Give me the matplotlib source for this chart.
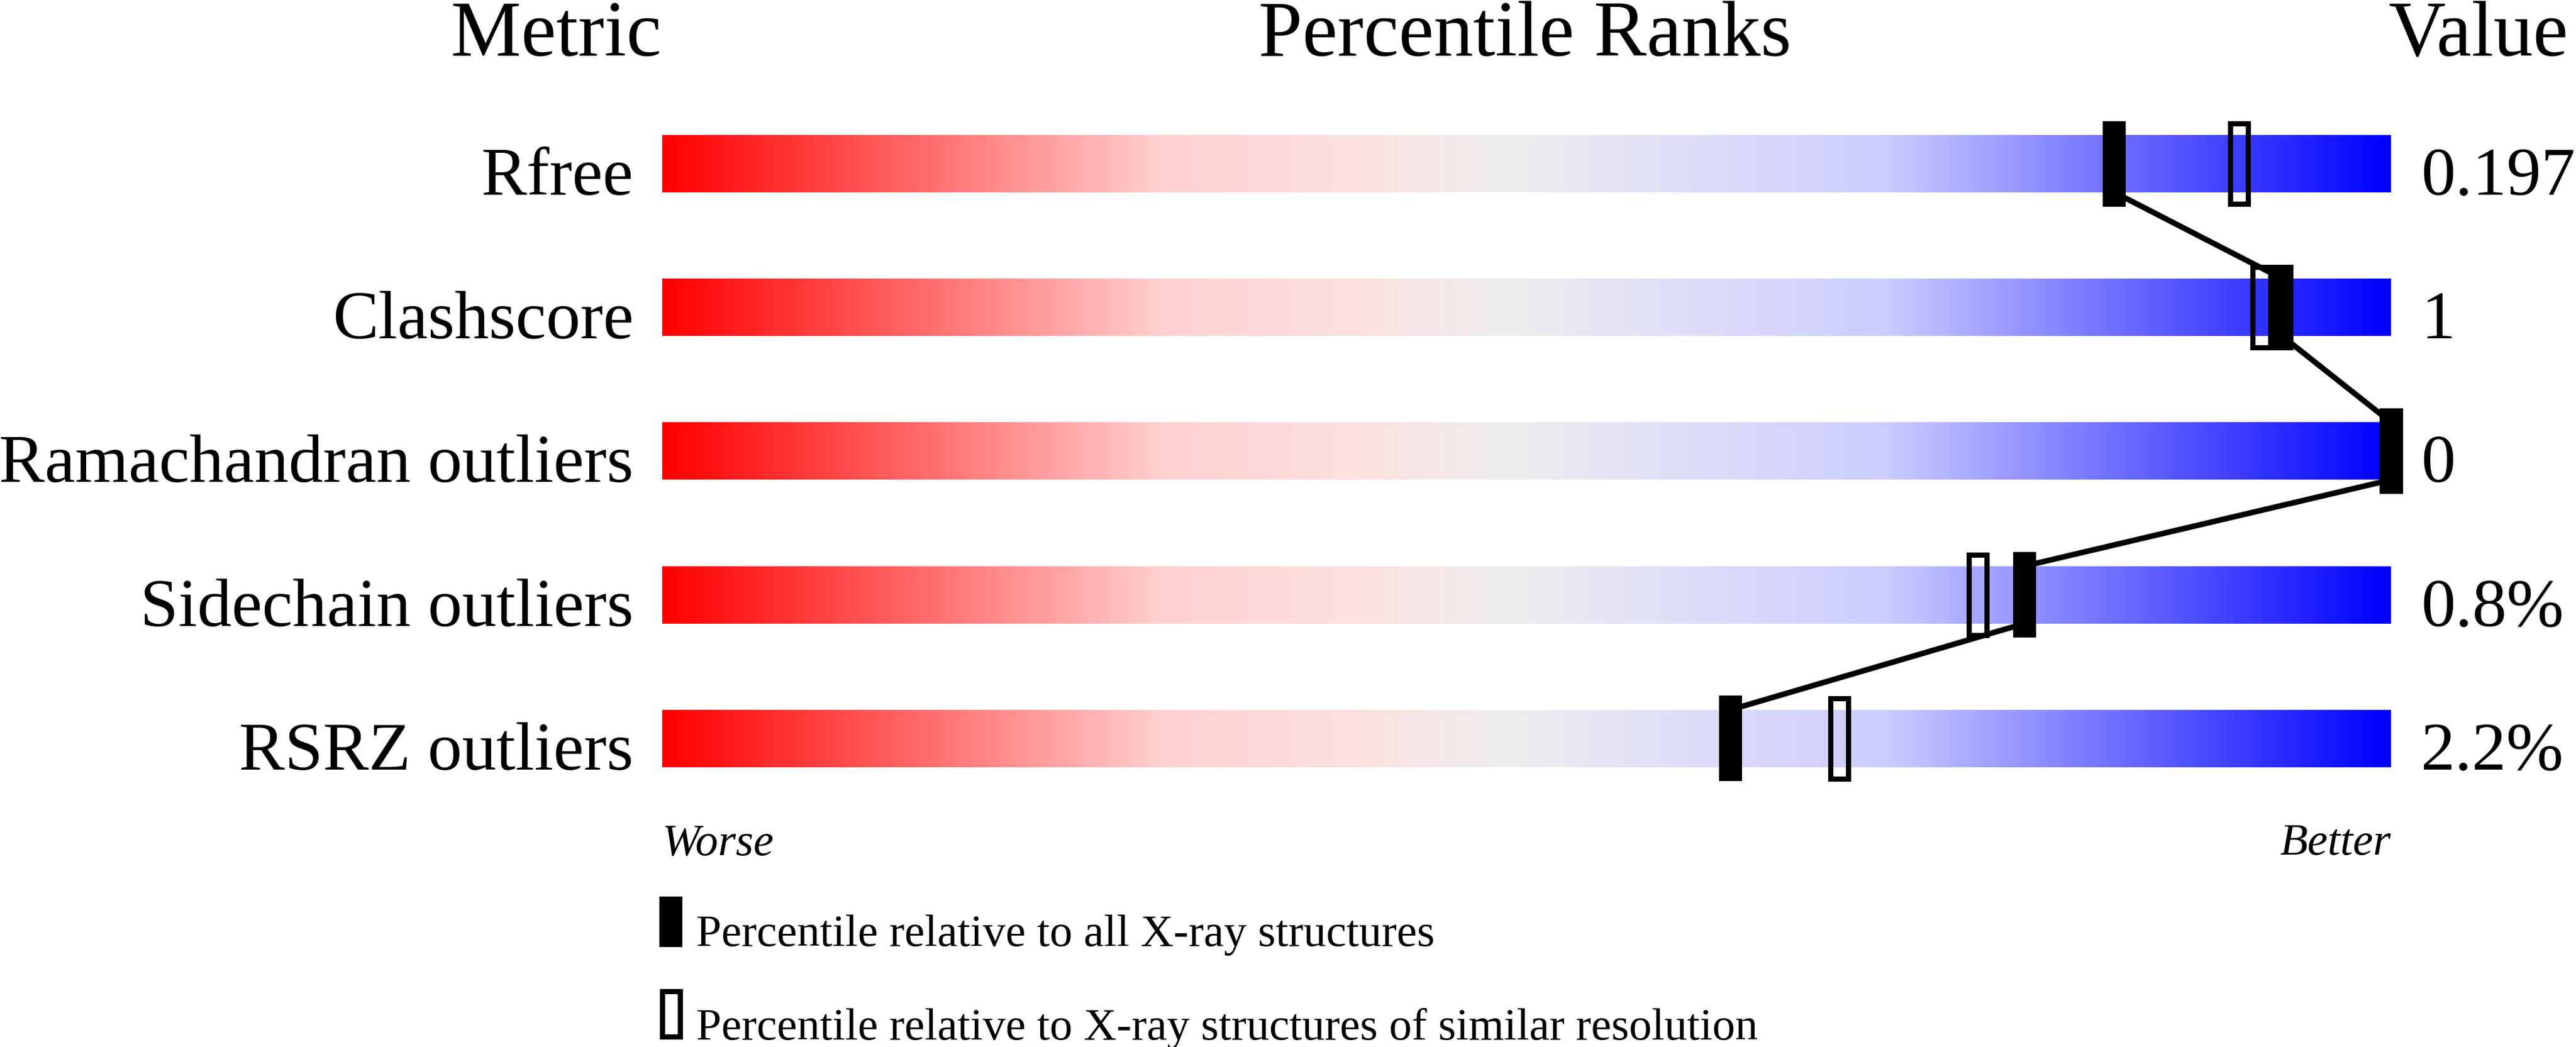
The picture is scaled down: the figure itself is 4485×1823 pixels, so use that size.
import numpy as np
import matplotlib
matplotlib.use("Agg")
import matplotlib.pyplot as plt
from matplotlib.colors import LinearSegmentedColormap
from matplotlib.patches import Rectangle

plt.rcParams['font.family'] = ['Liberation Serif', 'DejaVu Serif']

# data
metrics = ["Rfree", "Clashscore", "Ramachandran outliers", "Sidechain outliers", "RSRZ outliers"]
values = ["0.197", "1", "0", "0.8%", "2.2%"]
pct_all = [84.0, 93.7, 100.0, 78.8, 61.8]       # vs all X-ray structures (filled)
pct_similar = [91.2, 92.5, 100.0, 76.1, 68.1]   # vs similar resolution (open)
legend_labels = ["Percentile relative to all X-ray structures",
                 "Percentile relative to X-ray structures of similar resolution"]

W, H = 4485, 1824
BAR_L, BAR_R = 1153, 4163
ROW0, ROW_STEP = 286, 250.2       # pixel centre of first row, spacing
px_per_pct = (BAR_R - BAR_L) / 100.0

fig = plt.figure(figsize=(W / 100, H / 100), dpi=100)
ax = fig.add_axes([BAR_L / W, 0, (BAR_R - BAR_L) / W, 1])

cmap = LinearSegmentedColormap.from_list("slider", [
    (0.0, (1.0, 0.0, 0.0)),
    (0.29, (1.0, 0.82, 0.82)),
    (0.40, (0.99, 0.88, 0.88)),
    (0.49, (0.933, 0.933, 0.933)),
    (0.61, (0.86, 0.86, 0.98)),
    (0.71, (0.80, 0.80, 1.0)),
    (1.0, (0.0, 0.0, 1.0)),
])
grad = np.linspace(0, 1, 512).reshape(1, -1)

bar_h = 50 / ROW_STEP      # half height of bar in row units
mk_h = 74.5 / ROW_STEP     # half height of marker
mk_w = 40 / px_per_pct     # marker width in percentile units
ow = 9 / px_per_pct        # open marker stroke inset

rows = np.arange(len(metrics))
for r in rows:
    ax.imshow(grad, cmap=cmap, aspect='auto', extent=[0, 100, r + bar_h, r - bar_h],
              interpolation='bilinear', zorder=1)

# open markers
for r, p in zip(rows, pct_similar):
    ax.add_patch(Rectangle((p - mk_w / 2 + ow / 2, r - mk_h + 4.5 / ROW_STEP),
                           mk_w - ow, 2 * mk_h - 9 / ROW_STEP,
                           fill=False, edgecolor='black', lw=6.5, zorder=2, clip_on=False))

# connecting line: bottom of one bar to top of next
lx, ly = [], []
for r, p in zip(rows, pct_all):
    lx += [p, p]
    ly += [r - bar_h, r + bar_h]
ax.plot(lx, ly, color='black', lw=7, zorder=3, clip_on=False)

# filled markers
for r, p in zip(rows, pct_all):
    ax.add_patch(Rectangle((p - mk_w / 2, r - mk_h), mk_w, 2 * mk_h,
                           facecolor='black', edgecolor='none', zorder=4, clip_on=False))

top = -ROW0 / ROW_STEP
bottom = (H - ROW0) / ROW_STEP
ax.set_xlim(0, 100)
ax.set_ylim(bottom, top)
ax.axis('off')

def px2x(px):
    return (px - BAR_L) / px_per_pct

def py2y(py):
    return (py - ROW0) / ROW_STEP

lab_off = 53 / ROW_STEP
for r, m, v in zip(rows, metrics, values):
    ax.text(px2x(1103), r + lab_off, m, ha='right', va='baseline', fontsize=86)
    ax.text(px2x(4215), r + lab_off, v, ha='left', va='baseline', fontsize=86)

# headers
fig.text(1152 / W, 1 - 97 / H, "Metric", ha='right', va='baseline', fontsize=99)
fig.text(2655 / W, 1 - 97 / H, "Percentile Ranks", ha='center', va='baseline', fontsize=99)
fig.text(4158 / W, 1 - 97 / H, "Value", ha='left', va='baseline', fontsize=99)

ax.text(0, py2y(1488), "Worse", ha='left', va='baseline', fontsize=57, style='italic')
ax.text(100, py2y(1488), "Better", ha='right', va='baseline', fontsize=57, style='italic')

# legend
ax.add_patch(Rectangle((px2x(1148), py2y(1562)), 40 / px_per_pct, 88 / ROW_STEP,
                       facecolor='black', edgecolor='none', clip_on=False))
ax.add_patch(Rectangle((px2x(1152.5), py2y(1726.5)), 31 / px_per_pct, 79 / ROW_STEP,
                       fill=False, edgecolor='black', lw=6.5, clip_on=False))
ax.text(px2x(1212), py2y(1647), legend_labels[0], ha='left', va='baseline', fontsize=57)
ax.text(px2x(1212), py2y(1810), legend_labels[1], ha='left', va='baseline', fontsize=57)

fig.savefig("out.png", dpi=100, facecolor='white')
